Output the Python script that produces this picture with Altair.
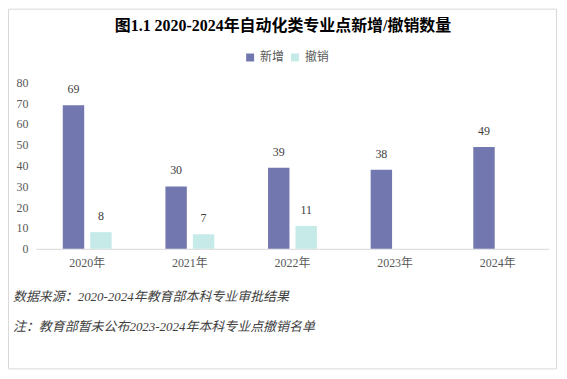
import altair as alt
import pandas as pd

years = ["2020年", "2021年", "2022年", "2023年", "2024年"]
added = [69, 30, 39, 38, 49]
removed = [8, 7, 11, None, None]
series = ["新增", "撤销"]
colors = ["#7377b0", "#c6eae8"]
title_text = "图1.1  2020-2024年自动化类专业点新增/撤销数量"
note_source = "数据来源：2020-2024年教育部本科专业审批结果"
note_remark = "注：教育部暂未公布2023-2024年本科专业点撤销名单"

rows = []
for y, a, r in zip(years, added, removed):
    rows.append({"year": y, "type": "新增", "value": a})
    if r is not None:
        rows.append({"year": y, "type": "撤销", "value": r})
df = pd.DataFrame(rows)

FONT = "'Liberation Serif', 'Noto Sans CJK SC'"
W, H = 515, 167

x_enc = alt.X("year:N", sort=years, title=None,
              scale=alt.Scale(paddingInner=0.524, paddingOuter=0.262),
              axis=alt.Axis(labelAngle=0, ticks=False, domainColor="#d9d9d9",
                            labelPadding=9, labelFont=FONT, labelFontSize=12,
                            labelColor="#595959"))
xo_enc = alt.XOffset("type:N", sort=series,
                     scale=alt.Scale(domain=series, paddingInner=0.22, paddingOuter=0))
y_enc = alt.Y("value:Q", title=None,
              scale=alt.Scale(domain=[0, 80]),
              axis=alt.Axis(values=list(range(0, 81, 10)), grid=False, domain=False,
                            ticks=False, labelPadding=8, labelFont=FONT,
                            labelFontSize=12, labelColor="#595959"))

bars = alt.Chart(df).mark_bar().encode(
    x=x_enc, xOffset=xo_enc, y=y_enc,
    color=alt.Color("type:N", sort=series,
                    scale=alt.Scale(domain=series, range=colors),
                    legend=alt.Legend(title=None, orient="none", legendX=209, legendY=-31,
                                      direction="horizontal", symbolType="square",
                                      symbolSize=64, symbolStrokeWidth=0,
                                      labelFont=FONT, labelFontSize=12,
                                      labelColor="#595959", columnPadding=4,
                                      labelOffset=4)),
)

labels = alt.Chart(df).mark_text(baseline="bottom", dy=-9, font=FONT, fontSize=12,
                                 color="#404040").encode(
    x=x_enc, xOffset=xo_enc, y=y_enc, text="value:Q",
)


def note(text, ypix):
    return alt.Chart(pd.DataFrame({"t": [text]})).mark_text(
        align="left", baseline="middle", font=FONT, fontSize=13, fontStyle="italic",
        color="#404040").encode(x=alt.value(-23), y=alt.value(ypix), text="t:N")


def edge(x1, x2, y1, y2):
    return alt.Chart(pd.DataFrame({"a": [0]})).mark_rule(
        color="#d9d9d9", strokeWidth=1).encode(
        x=alt.value(x1), x2=alt.value(x2), y=alt.value(y1), y2=alt.value(y2))


L, R, T, B = -27.5, 522.5, -73.5, 287.5
border = [edge(L, R, T, T), edge(L, R, B, B), edge(L, L, T, B), edge(R, R, T, B)]

title_layer = alt.Chart(pd.DataFrame({"t": [title_text]})).mark_text(
    font=FONT, fontSize=16, fontWeight="bold", color="#000000",
    baseline="middle", align="center").encode(
    x=alt.value(248), y=alt.value(-57), text="t:N")

chart = alt.layer(*border, bars, labels, note(note_source, 215), note(note_remark, 245),
                  title_layer).properties(
    width=W, height=H,
    autosize=alt.AutoSizeParams(type="none"),
    padding={"left": 28, "top": 74, "right": 10, "bottom": 130},
).configure(background="#ffffff").configure_view(stroke="transparent", strokeWidth=0)

chart.save("out.html", embed_options={"renderer": "svg", "actions": False})
